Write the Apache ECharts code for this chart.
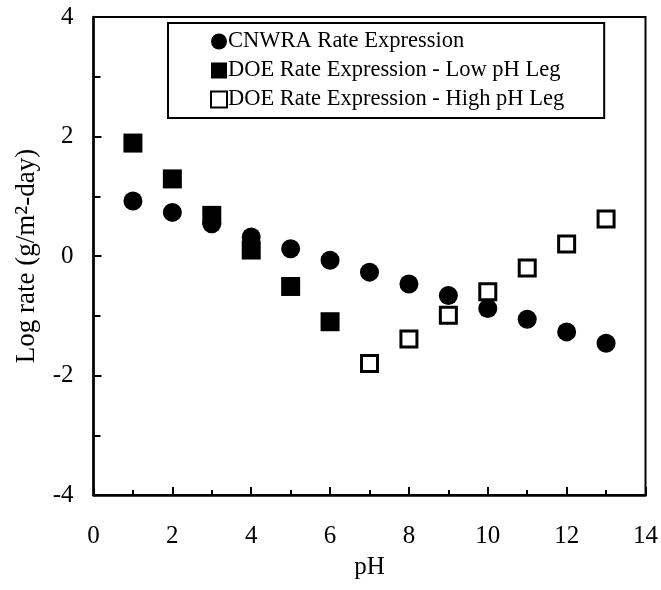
<!DOCTYPE html>
<html>
<head>
<meta charset="utf-8">
<script src="https://cdn.jsdelivr.net/npm/echarts@6/dist/echarts.min.js"></script>
<style>
html,body{margin:0;padding:0;background:#fff;}
#chart{width:661px;height:590px;}
</style>
</head>
<body>
<div id="chart"></div>
<script>
const cnwraPH = [1, 2, 3, 4, 5, 6, 7, 8, 9, 10, 11, 12, 13];
const cnwraRate = [0.92, 0.73, 0.54, 0.32, 0.12, -0.07, -0.27, -0.47, -0.66, -0.88, -1.06, -1.27, -1.46];
const doeLowPH = [1, 2, 3, 4, 5, 6];
const doeLowRate = [1.89, 1.29, 0.68, 0.10, -0.51, -1.10];
const doeHighPH = [7, 8, 9, 10, 11, 12, 13];
const doeHighRate = [-1.80, -1.39, -0.99, -0.60, -0.20, 0.20, 0.62];
const seriesNames = ['CNWRA Rate Expression', 'DOE Rate Expression - Low pH Leg', 'DOE Rate Expression - High pH Leg'];

const FONT = "'Liberation Serif', 'Times New Roman', serif";
const pairs = (xs, ys) => xs.map((x, i) => [x, ys[i]]);

const chart = echarts.init(document.getElementById('chart'), null, {renderer: 'canvas'});
chart.setOption({
  animation: false,
  backgroundColor: '#fff',
  textStyle: {fontFamily: FONT, color: '#000'},
  grid: {
    left: 93.5, right: 15, top: 17, bottom: 95,
    show: true, borderColor: '#000', borderWidth: 2, backgroundColor: 'transparent'
  },
  legend: {
    data: seriesNames,
    orient: 'vertical',
    left: 168, top: 23,
    padding: [7, 40, 7, 42],
    itemGap: 6,
    itemWidth: 16, itemHeight: 16,
    itemStyle: {borderWidth: 2},
    borderColor: '#000', borderWidth: 2,
    backgroundColor: '#fff',
    textStyle: {fontFamily: FONT, fontSize: 22.5, color: '#000', lineHeight: 22, padding: [0, 0, 0, -4]},
    selectedMode: false
  },
  xAxis: {
    type: 'value', min: 0, max: 14, interval: 2,
    name: 'pH', nameLocation: 'middle', nameGap: 60,
    nameTextStyle: {fontFamily: FONT, fontSize: 25, color: '#000'},
    axisLine: {show: true, onZero: false, lineStyle: {color: '#000', width: 2.5}},
    axisTick: {show: true, inside: true, length: 8, lineStyle: {color: '#000', width: 2}},
    minorTick: {show: true, splitNumber: 2, length: 5, lineStyle: {color: '#000', width: 2}},
    splitLine: {show: false},
    axisLabel: {fontFamily: FONT, fontSize: 25, color: '#000', margin: 29}
  },
  yAxis: {
    type: 'value', min: -4, max: 4, interval: 2,
    name: '{a|Log rate (g/m}{s|²}{a|-day)}', nameLocation: 'middle', nameGap: 47,
    nameTextStyle: {
      fontFamily: FONT, color: '#000',
      rich: {
        a: {fontFamily: FONT, fontSize: 27, color: '#000', lineHeight: 27},
        s: {fontFamily: FONT, fontSize: 30, color: '#000', lineHeight: 27}
      }
    },
    axisLine: {show: true, onZero: false, lineStyle: {color: '#000', width: 2.5}},
    axisTick: {show: true, inside: true, length: 8, lineStyle: {color: '#000', width: 2}},
    minorTick: {show: true, splitNumber: 2, length: 7, lineStyle: {color: '#000', width: 2}},
    splitLine: {show: false},
    axisLabel: {fontFamily: FONT, fontSize: 25, color: '#000', margin: 20}
  },
  series: [
    {
      name: seriesNames[2], type: 'scatter', symbol: 'rect', symbolSize: 16,
      data: pairs(doeHighPH, doeHighRate),
      itemStyle: {color: '#fff', borderColor: '#000', borderWidth: 3, opacity: 1}
    },
    {
      name: seriesNames[1], type: 'scatter', symbol: 'rect', symbolSize: 19,
      data: pairs(doeLowPH, doeLowRate),
      itemStyle: {color: '#000', opacity: 1}
    },
    {
      name: seriesNames[0], type: 'scatter', symbol: 'circle', symbolSize: 19,
      data: pairs(cnwraPH, cnwraRate),
      itemStyle: {color: '#000', opacity: 1}
    }
  ]
});
</script>
</body>
</html>
